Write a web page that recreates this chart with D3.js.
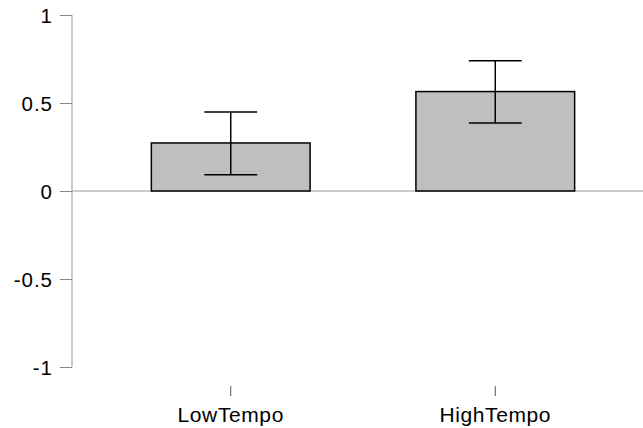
<!DOCTYPE html>
<html>
<head>
<meta charset="utf-8">
<script src="https://cdnjs.cloudflare.com/ajax/libs/d3/7.8.5/d3.min.js"></script>
<style>
  body { margin: 0; background: #fff; }
  text { font-family: "Liberation Sans", Arial, sans-serif; fill: #000; }
</style>
</head>
<body>
<div id="chart"></div>
<script>
const categories = ["LowTempo", "HighTempo"];
const means = [0.273, 0.565];
const lower = [0.093, 0.387];
const upper = [0.449, 0.740];
const yTicks = [-1, -0.5, 0, 0.5, 1];

const width = 643;
const height = 428;

const svg = d3.select("#chart").append("svg")
    .attr("width", width)
    .attr("height", height);

const y = d3.scaleLinear().domain([-1, 1]).range([367, 15]);
const x = d3.scaleBand().domain(categories).range([72, 654]).paddingInner(0.4).paddingOuter(0.3);

const axisX = 72;

// y axis, hyphen minus like the original
const yAxis = svg.append("g")
    .attr("transform", "translate(" + axisX + ",0)")
    .call(d3.axisLeft(y).tickValues(yTicks).tickSize(12).tickPadding(7)
        .tickFormat(d => String(d)));
yAxis.select(".domain").attr("stroke", "#999").attr("d", "M0," + y(1) + "V" + y(-1));
yAxis.selectAll(".tick line").attr("stroke", "#888");
yAxis.selectAll(".tick text")
    .style("font-size", "20.5px")
    .style("letter-spacing", "1px")
    .attr("font-family", null)
    .attr("dy", "0.36em");

// zero line
svg.append("line")
    .attr("x1", axisX).attr("x2", width)
    .attr("y1", y(0)).attr("y2", y(0))
    .attr("stroke", "#999").attr("stroke-width", 1);

// bars
svg.append("g").selectAll("rect")
    .data(categories)
    .enter().append("rect")
    .attr("x", d => x(d))
    .attr("width", x.bandwidth())
    .attr("y", (d, i) => y(means[i]))
    .attr("height", (d, i) => y(0) - y(means[i]))
    .attr("fill", "#bfbfbf")
    .attr("stroke", "#000")
    .attr("stroke-width", 1.5);

// error bars
const capHalf = x.bandwidth() / 6;
const err = svg.append("g").attr("stroke", "#000").attr("stroke-width", 1.5);
categories.forEach(function (c, i) {
    const cx = x(c) + x.bandwidth() / 2;
    err.append("line").attr("x1", cx).attr("x2", cx).attr("y1", y(lower[i])).attr("y2", y(upper[i]));
    err.append("line").attr("x1", cx - capHalf).attr("x2", cx + capHalf).attr("y1", y(upper[i])).attr("y2", y(upper[i]));
    err.append("line").attr("x1", cx - capHalf).attr("x2", cx + capHalf).attr("y1", y(lower[i])).attr("y2", y(lower[i]));
});

// x axis (ticks only, no line)
const xAxis = svg.append("g")
    .attr("transform", "translate(0,386)")
    .call(d3.axisBottom(x).tickSize(10).tickPadding(11).tickSizeOuter(0));
xAxis.select(".domain").remove();
xAxis.selectAll(".tick line").attr("stroke", "#555");
xAxis.selectAll(".tick text")
    .style("font-size", "21px")
    .style("letter-spacing", "0.6px")
    .attr("font-family", null);
</script>
</body>
</html>
